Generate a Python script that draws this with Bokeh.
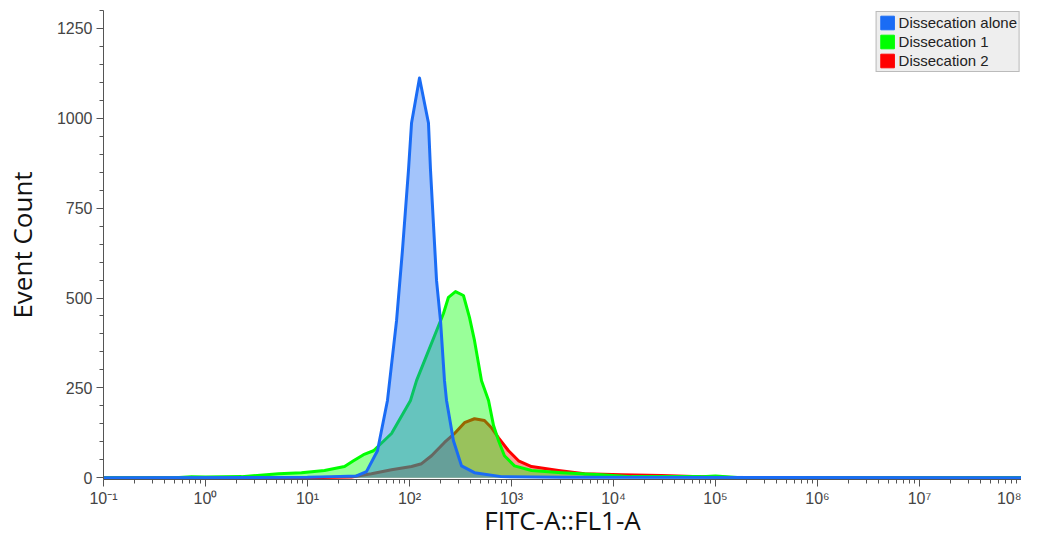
import numpy as np
from bokeh.plotting import figure
from bokeh.models import Range1d, FixedTicker, Legend, LegendItem
from bokeh.embed import file_html
from bokeh.resources import INLINE

# ---- data (x as log10 of FITC-A::FL1-A, y as event count) ----
blue_logx = [-1.0, 1.0, 1.235, 1.48, 1.578, 1.686, 1.784, 1.873, 1.931, 1.99, 2.02, 2.098,
             2.186, 2.206, 2.265, 2.304, 2.343, 2.363, 2.431, 2.51, 2.637, 2.9, 3.5, 8.0]
blue_count = [0, 1, 3, 5, 17, 75, 215, 437, 633, 856, 987, 1112,
              987, 856, 549, 437, 270, 215, 103, 33, 14, 3, 1, 0]

green_logx = [-1.0, -0.3, -0.137, 0.0, 0.353, 0.716, 0.941, 1.167, 1.363, 1.451, 1.549, 1.647,
              1.824, 2.01, 2.069, 2.333, 2.382, 2.451, 2.529, 2.588, 2.637, 2.706, 2.775, 2.824,
              2.873, 2.931, 3.029, 3.196, 3.49, 3.882, 4.176, 4.86, 5.0, 5.25, 8.0]
green_count = [0, 0, 3, 2, 3, 11, 14, 20, 31, 47, 64, 75,
               123, 215, 270, 457, 502, 518, 507, 446, 382, 270, 215, 145,
               103, 61, 33, 20, 14, 8, 3, 3, 5, 0, 0]

red_logx = [-1.0, 1.0, 1.431, 1.627, 1.824, 2.02, 2.118, 2.216, 2.343, 2.441, 2.539, 2.637,
            2.735, 2.804, 2.873, 2.971, 3.069, 3.196, 3.461, 3.716, 4.078, 4.47, 4.86, 5.25, 8.0]
red_count = [0, 0, 2, 11, 22, 31, 39, 61, 98, 123, 153, 164,
             159, 139, 111, 75, 47, 31, 20, 11, 8, 6, 3, 0, 0]

series_names = ["Dissecation alone", "Dissecation 1", "Dissecation 2"]
series_colors = ["#1a6cf5", "#00ff00", "#ff0000"]

decades = list(range(-1, 9))
sup = {"-": "\u207b", "0": "\u2070", "1": "\u00b9", "2": "\u00b2", "3": "\u00b3", "4": "\u2074",
       "5": "\u2075", "6": "\u2076", "7": "\u2077", "8": "\u2078", "9": "\u2079"}
decade_labels = ["10" + "".join(sup[c] for c in str(d)) for d in decades]
y_ticks = [0, 250, 500, 750, 1000, 1250]

p = figure(frame_width=918, frame_height=469, x_axis_type="log",
           x_range=Range1d(10 ** -1, 10 ** 8), y_range=Range1d(-5, 1300),
           output_backend="svg", toolbar_location=None,
           min_border_left=94, min_border_right=0, min_border_top=10, min_border_bottom=0)
p.xgrid.visible = False
p.ygrid.visible = False
p.outline_line_color = None

order = [(red_logx, red_count, 2), (green_logx, green_count, 1), (blue_logx, blue_count, 0)]
for lx, cnt, idx in order:
    xs = 10 ** np.array(lx, dtype=float)
    ys = np.array(cnt, dtype=float)
    c = series_colors[idx]
    p.varea(x=xs, y1=np.zeros_like(ys), y2=ys, fill_color=c, fill_alpha=0.4)
    p.line(x=xs, y=ys, line_color=c, line_width=3, line_join="round")

items = []
for name, c in zip(series_names, series_colors):
    r = p.quad(left=[np.nan], right=[np.nan], top=[np.nan], bottom=[np.nan],
               fill_color=c, line_color=c)
    items.append(LegendItem(label=name, renderers=[r]))

legend = Legend(items=items, location="top_right",
                label_text_font="Liberation Sans", label_text_font_size="15px",
                label_text_color="#222222", label_standoff=3,
                glyph_width=17, glyph_height=17, label_height=17,
                spacing=2, padding=2, margin=1,
                border_line_color="#888888", border_line_width=1,
                background_fill_color="#eeeeee", background_fill_alpha=1.0)
p.add_layout(legend)

# x axis
xt = FixedTicker(ticks=[10.0 ** d for d in decades],
                 minor_ticks=[m * 10.0 ** d for d in decades[:-1] for m in range(2, 10)])
p.xaxis.ticker = xt
p.xaxis.major_label_overrides = {10.0 ** d: lab for d, lab in zip(decades, decade_labels)}
p.xaxis.axis_label = "FITC-A::FL1-A"

# y axis
p.yaxis.ticker = FixedTicker(ticks=y_ticks, minor_ticks=list(range(0, 1301, 50)))
p.yaxis.axis_label = "Event Count"

for ax in (p.xaxis[0], p.yaxis[0]):
    ax.axis_line_color = "#555555"
    ax.major_tick_line_color = "#555555"
    ax.minor_tick_line_color = "#555555"
    ax.major_tick_out = 7
    ax.major_tick_in = 0
    ax.minor_tick_out = 4
    ax.minor_tick_in = 0
    ax.major_label_text_font = "Liberation Sans"
    ax.major_label_text_font_size = "16px"
    ax.major_label_text_color = "#444444"
    ax.axis_label_text_font = "Open Sans"
    ax.axis_label_text_font_size = "26px"
    ax.axis_label_text_font_style = "normal"
    ax.axis_label_text_color = "#111111"

p.yaxis.major_label_standoff = 4
p.yaxis.axis_label_standoff = 14
p.xaxis.major_label_standoff = 3
p.xaxis.axis_label_standoff = -8

open("out.html", "w").write(file_html(p, INLINE))
